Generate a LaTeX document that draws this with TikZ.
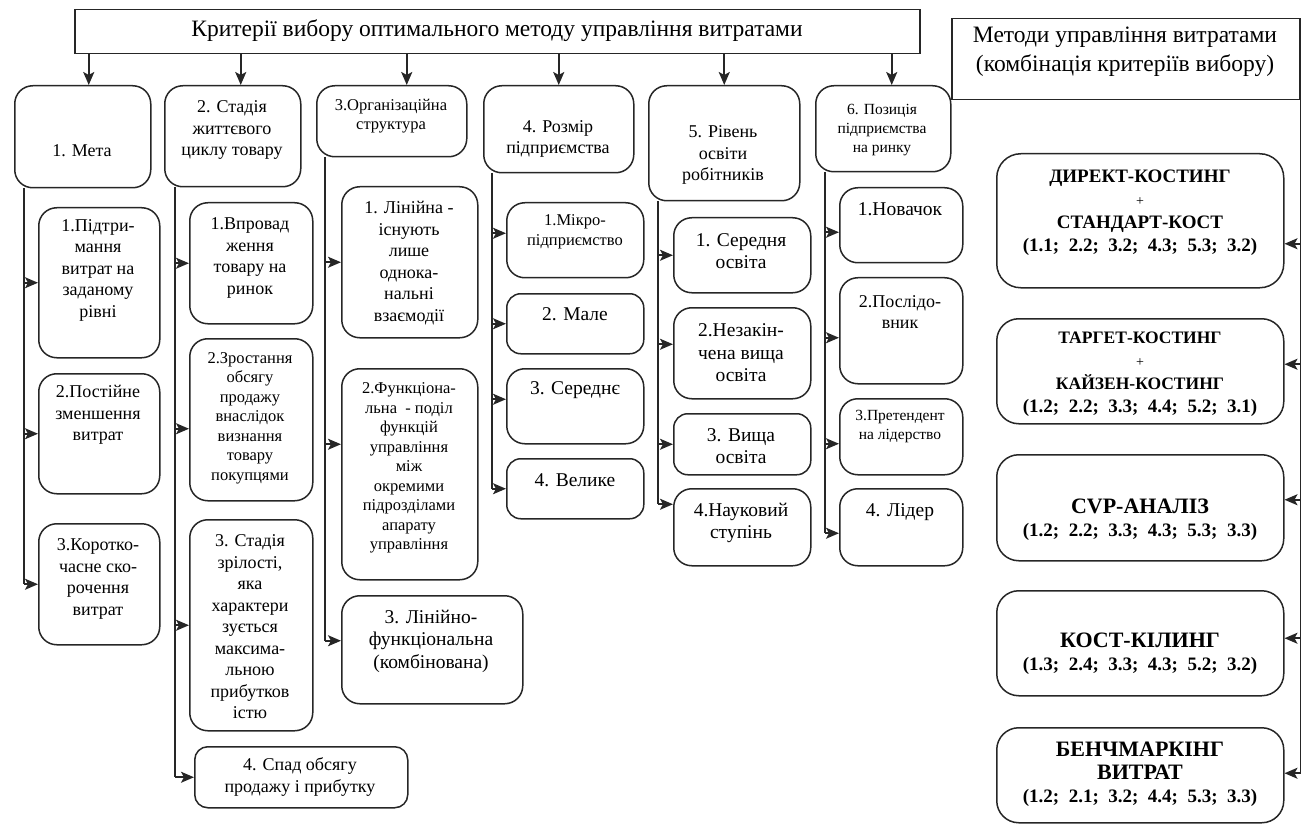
\documentclass[tikz,border=0pt]{standalone}
\usepackage{fontspec}
\setmainfont{Liberation Serif}
\usetikzlibrary{arrows.meta}

\begin{document}
\begin{tikzpicture}[x=1pt, y=-1pt,
    box/.style={draw=black!85, line width=1.5pt, rounded corners=18pt, inner sep=0pt, anchor=north west},
    plainbox/.style={draw=black!85, line width=1.5pt, inner sep=0pt, anchor=north west},
    txt/.style={align=center, inner sep=0pt, font=\fontsize{18}{21.5}\selectfont},
    fbig/.style={font=\fontsize{19.5}{22.5}\selectfont},
    fsmall/.style={font=\fontsize{16.5}{19.5}\selectfont},
    ftiny/.style={font=\fontsize{15.5}{19}\selectfont},
    fhead/.style={font=\fontsize{23.5}{29}\selectfont},
    fmeth/.style={font=\bfseries\fontsize{19}{23}\selectfont},
    ln/.style={draw=black!85, line width=1.6pt},
    arr/.style={ln, -{Stealth[length=13pt, width=11pt, inset=3pt]}},
    bigarr/.style={arr, line width=2.2pt}]
    \useasboundingbox (0,0) rectangle (1307,829);

    % Header boxes
    \node[plainbox, minimum width=845pt, minimum height=44pt] (crit) at (74,9) {};
    \node[txt, fhead] (crit-t) at (497,31) {Критерії вибору оптимального методу управління витратами};
    \node[plainbox, minimum width=348pt, minimum height=81pt] (meth) at (951,18) {};
    \node[txt, fhead] (meth-t) at (1125,52) {Методи управління витратами\\(комбінація критеріїв вибору)};

    % Criteria (first row)
    \node[box, minimum width=136pt, minimum height=102pt] (goal) at (14,85) {};
    \node[txt] (goal-t) at (82,151) {1. Мета};
    \node[box, minimum width=136pt, minimum height=101pt] (stage) at (164,85) {};
    \node[txt] (stage-t) at (232,130) {2. Стадія\\життєвого\\циклу товару};
    \node[box, minimum width=150pt, minimum height=71pt] (org) at (316,85) {};
    \node[txt, fsmall] (org-t) at (391,116) {3.Організаційна\\структура};
    \node[box, minimum width=150pt, minimum height=87pt] (size) at (483,85) {};
    \node[txt] (size-t) at (558,139) {4. Розмір\\підприємства};
    \node[box, minimum width=151pt, minimum height=115pt] (edu) at (648,85) {};
    \node[txt] (edu-t) at (723,155) {5. Рівень\\освіти\\робітників};
    \node[box, minimum width=135pt, minimum height=86pt] (pos) at (815,85) {};
    \node[txt, ftiny] (pos-t) at (882,130) {6. Позиція\\підприємства\\на ринку};

    % 1. Goal
    \node[box, minimum width=121pt, minimum height=150pt] (g1) at (38,207) {};
    \node[txt] (g1-t) at (98,270) {1.Підтри-\\мання\\витрат на\\заданому\\рівні};
    \node[box, minimum width=121pt, minimum height=120pt] (g2) at (38,373) {};
    \node[txt] (g2-t) at (98,415) {2.Постійне\\зменшення\\витрат};
    \node[box, minimum width=121pt, minimum height=121pt] (g3) at (38,523) {};
    \node[txt] (g3-t) at (98,579) {3.Коротко-\\часне ско-\\рочення\\витрат};

    % 2. Life cycle stage
    \node[box, minimum width=123pt, minimum height=121pt] (s1) at (189,202) {};
    \node[txt] (s1-t) at (250,258) {1.Впровад\\ження\\товару на\\ринок};
    \node[box, minimum width=123pt, minimum height=162pt] (s2) at (189,338) {};
    \node[txt, fsmall] (s2-t) at (250,418) {2.Зростання\\обсягу\\продажу\\внаслідок\\визнання\\товару\\покупцями};
    \node[box, minimum width=123pt, minimum height=211pt] (s3) at (189,519) {};
    \node[txt] (s3-t) at (250,627) {3. Стадія\\зрілості,\\яка\\характери\\зується\\максима-\\льною\\прибутков\\істю};
    \node[box, minimum width=213pt, minimum height=61pt, rounded corners=13pt] (s4) at (194,746) {};
    \node[txt] (s4-t) at (300,777) {4. Спад обсягу\\продажу і прибутку};

    % 3. Organisational structure
    \node[box, minimum width=136pt, minimum height=151pt] (o1) at (341,186) {};
    \node[txt] (o1-t) at (409,263) {1. Лінійна -\\існують\\лише\\однока-\\нальні\\взаємодії};
    \node[box, minimum width=136pt, minimum height=211pt] (o2) at (341,368) {};
    \node[txt, fsmall] (o2-t) at (409,468) {2.Функціона-\\льна~ - поділ\\функцій\\управління\\між\\окремими\\підрозділами\\апарату\\управління};
    \node[box, minimum width=181pt, minimum height=108pt] (o3) at (341,595) {};
    \node[txt, fbig] (o3-t) at (431,641) {3. Лінійно-\\функціональна\\(комбінована)};

    % 4. Enterprise size
    \node[box, minimum width=137pt, minimum height=75pt] (z1) at (506,202) {};
    \node[txt, fsmall] (z1-t) at (575,232) {1.Мікро-\\підприємство};
    \node[box, minimum width=137pt, minimum height=60pt, rounded corners=14pt] (z2) at (506,293) {};
    \node[txt, fbig] (z2-t) at (575,314) {2. Мале};
    \node[box, minimum width=137pt, minimum height=75pt] (z3) at (506,368) {};
    \node[txt, fbig] (z3-t) at (575,390) {3. Середнє};
    \node[box, minimum width=137pt, minimum height=60pt, rounded corners=14pt] (z4) at (506,458) {};
    \node[txt, fbig] (z4-t) at (575,480) {4. Велике};

    % 5. Education level
    \node[box, minimum width=137pt, minimum height=75pt] (e1) at (673,217) {};
    \node[txt, fbig] (e1-t) at (741,251) {1. Середня\\освіта};
    \node[box, minimum width=137pt, minimum height=91pt] (e2) at (673,307) {};
    \node[txt, fbig] (e2-t) at (741,353) {2.Незакін-\\чена вища\\освіта};
    \node[box, minimum width=137pt, minimum height=61pt, rounded corners=14pt] (e3) at (673,413) {};
    \node[txt, fbig] (e3-t) at (741,446) {3. Вища\\освіта};
    \node[box, minimum width=137pt, minimum height=77pt] (e4) at (673,488) {};
    \node[txt, fbig] (e4-t) at (741,523) {4.Науковий\\ступінь};

    % 6. Market position
    \node[box, minimum width=123pt, minimum height=75pt] (p1) at (839,187) {};
    \node[txt, fbig] (p1-t) at (900,209) {1.Новачок};
    \node[box, minimum width=123pt, minimum height=106pt] (p2) at (839,277) {};
    \node[txt] (p2-t) at (900,312) {2.Послідо-\\вник};
    \node[box, minimum width=123pt, minimum height=76pt] (p3) at (839,398) {};
    \node[txt, ftiny] (p3-t) at (900,427) {3.Претендент\\на лідерство};
    \node[box, minimum width=123pt, minimum height=77pt] (p4) at (839,488) {};
    \node[txt, fbig] (p4-t) at (900,512) {4. Лідер};

    % Methods
    \node[box, minimum width=287pt, minimum height=134pt, rounded corners=24pt] (m1) at (996,153) {};
    \node[txt, fmeth] (m1-t) at (1140,213) {ДИРЕКТ-КОСТИНГ\\{\mdseries\fontsize{14}{23}\selectfont +}\\СТАНДАРТ-КОСТ\\(1.1;~ 2.2;~ 3.2;~ 4.3;~ 5.3;~ 3.2)};
    \node[box, minimum width=287pt, minimum height=105pt, rounded corners=22pt] (m2) at (996,318) {};
    \node[txt, fmeth] (m2-t) at (1140,374) {{\fontsize{17.5}{21.5}\selectfont ТАРГЕТ-КОСТИНГ}\\{\mdseries\fontsize{14}{21.5}\selectfont +}\\{\fontsize{17.5}{21.5}\selectfont КАЙЗЕН-КОСТИНГ}\\(1.2;~ 2.2;~ 3.3;~ 4.4;~ 5.2;~ 3.1)};
    \node[box, minimum width=287pt, minimum height=106pt, rounded corners=22pt] (m3) at (996,454) {};
    \node[txt, fmeth] (m3-t) at (1140,520) {{\fontsize{22}{24}\selectfont CVP-АНАЛІЗ}\\(1.2;~ 2.2;~ 3.3;~ 4.3;~ 5.3;~ 3.3)};
    \node[box, minimum width=287pt, minimum height=105pt, rounded corners=22pt] (m4) at (996,590) {};
    \node[txt, fmeth] (m4-t) at (1140,654) {{\fontsize{22}{24}\selectfont КОСТ-КІЛИНГ}\\(1.3;~ 2.4;~ 3.3;~ 4.3;~ 5.2;~ 3.2)};
    \node[box, minimum width=287pt, minimum height=95pt, rounded corners=22pt] (m5) at (996,727) {};
    \node[txt, fmeth] (m5-t) at (1140,774) {{\fontsize{22}{24}\selectfont БЕНЧМАРКІНГ}\\{\fontsize{22}{24}\selectfont ВИТРАТ}\\(1.2;~ 2.1;~ 3.2;~ 4.4;~ 5.3;~ 3.3)};

    % Header to criteria
    \draw[bigarr] ([xshift=6pt]goal.north |- crit.south) -- ([xshift=6pt]goal.north);
    \draw[bigarr] ([xshift=8pt]stage.north |- crit.south) -- ([xshift=8pt]stage.north);
    \draw[bigarr] ([xshift=15pt]org.north |- crit.south) -- ([xshift=15pt]org.north);
    \draw[bigarr] (size.north |- crit.south) -- (size.north);
    \draw[bigarr] (edu.north |- crit.south) -- (edu.north);
    \draw[bigarr] ([xshift=8.5pt]pos.north |- crit.south) -- ([xshift=8.5pt]pos.north);

    % Column trunks
    \coordinate (l1) at ([xshift=10pt]goal.south west);
    \coordinate (l2) at ([xshift=11pt]stage.south west);
    \coordinate (l3) at ([xshift=9pt]org.south west);
    \coordinate (l4) at ([xshift=9pt]size.south west);
    \coordinate (l5) at ([xshift=10pt]edu.south west);
    \coordinate (l6) at ([xshift=10pt]pos.south west);

    % 1. Goal
    \draw[ln] (l1) -- (l1 |- g3.west);
    \draw[arr] (l1 |- g1.west) -- (g1.west);
    \draw[arr] (l1 |- g2.west) -- (g2.west);
    \draw[arr] (l1 |- g3.west) -- (g3.west);

    % 2. Life cycle stage
    \draw[ln] (l2) -- (l2 |- s4.west);
    \draw[arr] (l2 |- s1.west) -- (s1.west);
    \draw[arr] ([yshift=-9pt]l2 |- s2.west) -- ([yshift=-9pt]s2.west);
    \draw[arr] (l2 |- s3.west) -- (s3.west);
    \draw[arr] (l2 |- s4.west) -- (s4.west);

    % 3. Organisational structure
    \draw[ln] (l3) -- ([yshift=9pt]l3 |- o3.west);
    \draw[arr] (l3 |- o1.west) -- (o1.west);
    \draw[arr] ([yshift=30pt]l3 |- o2.west) -- ([yshift=30pt]o2.west);
    \draw[arr] ([yshift=9pt]l3 |- o3.west) -- ([yshift=9pt]o3.west);

    % 4. Enterprise size
    \draw[ln] (l4) -- (l4 |- z4.west);
    \draw[arr] ([yshift=7pt]l4 |- z1.west) -- ([yshift=7pt]z1.west);
    \draw[arr] (l4 |- z2.west) -- (z2.west);
    \draw[arr] ([yshift=7pt]l4 |- z3.west) -- ([yshift=7pt]z3.west);
    \draw[arr] (l4 |- z4.west) -- (z4.west);

    % 5. Education level
    \draw[ln] (l5) -- ([yshift=23pt]l5 |- e4.west);
    \draw[arr] (l5 |- e1.west) -- (e1.west);
    \draw[arr] ([yshift=9pt]l5 |- e2.west) -- ([yshift=9pt]e2.west);
    \draw[arr] (l5 |- e3.west) -- (e3.west);
    \draw[arr] ([yshift=23pt]l5 |- e4.west) -- ([yshift=23pt]e4.west);

    % 6. Market position
    \draw[ln] (l6) -- ([yshift=-6pt]l6 |- p4.west);
    \draw[arr] ([yshift=-7pt]l6 |- p1.west) -- ([yshift=-7pt]p1.west);
    \draw[arr] ([yshift=-7pt]l6 |- p2.west) -- ([yshift=-7pt]p2.west);
    \draw[arr] ([yshift=-7pt]l6 |- p3.west) -- ([yshift=-7pt]p3.west);
    \draw[arr] ([yshift=-6pt]l6 |- p4.west) -- ([yshift=-6pt]p4.west);

    % Methods trunk (right)
    \draw[ln] (meth.south east) -- ([yshift=2pt]meth.east |- m5.east);
    \draw[arr] ([yshift=-23pt]meth.east |- m1.east) -- ([yshift=-23pt]m1.east);
    \draw[arr] ([yshift=7pt]meth.east |- m2.east) -- ([yshift=7pt]m2.east);
    \draw[arr] ([yshift=8pt]meth.east |- m3.east) -- ([yshift=8pt]m3.east);
    \draw[arr] ([yshift=5pt]meth.east |- m4.east) -- ([yshift=5pt]m4.east);
    \draw[arr] ([yshift=2pt]meth.east |- m5.east) -- ([yshift=2pt]m5.east);
\end{tikzpicture}
\end{document}
